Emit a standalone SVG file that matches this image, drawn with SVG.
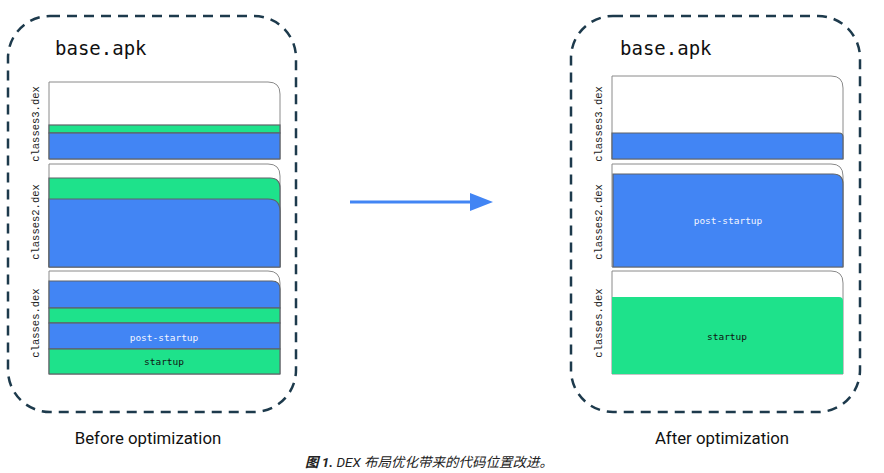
<svg xmlns="http://www.w3.org/2000/svg" width="884" height="473" viewBox="0 0 884 473">
<style>
.box{fill:none;stroke:#1d3a4c;stroke-width:2.5;stroke-dasharray:10 7}
.apk{font-family:"DejaVu Sans Mono","Liberation Mono",monospace;font-size:19px;fill:#111}
.lbl{font-family:"Liberation Mono","DejaVu Sans Mono",monospace;font-size:10.5px;fill:#222;text-anchor:middle}
.out{fill:#fff;stroke:#8a8a8a;stroke-width:1}
.b{fill:#4285f4;stroke:#5f6368;stroke-width:1.2}
.g{fill:#1ee28b;stroke:#5f6368;stroke-width:1.2}
.tw{font-family:"DejaVu Sans Mono","Liberation Mono",monospace;font-size:9.5px;fill:#f4f6ff;text-anchor:middle}
.tk{font-family:"DejaVu Sans Mono","Liberation Mono",monospace;font-size:9.5px;fill:#111;text-anchor:middle}
.cap{font-family:Roboto,"Liberation Sans",sans-serif;font-size:16.8px;fill:#111;text-anchor:middle}
.fig{font-family:Roboto,"Liberation Sans","Noto Sans CJK SC",sans-serif;font-size:13.5px;font-style:italic;fill:#222}
</style>
<g id="before">
<rect class="box" x="8" y="16" width="288" height="396" rx="42"/>
<text class="apk" x="55" y="55">base.apk</text>
<g id="before-classes3">
<path class="out" d="M49,159 V82 H268 Q280,82 280,94 V159 Z"/>
<rect class="g" x="49" y="125" width="231" height="8"/>
<rect class="b" x="49" y="133" width="231" height="26"/>
<text class="lbl" transform="translate(39,124) rotate(-90)">classes3.dex</text>
</g>
<g id="before-classes2">
<path class="out" d="M49,267 V164 H268 Q280,164 280,176 V267 Z"/>
<path class="g" d="M49,267 V178 H270 Q280,178 280,188 V267 Z"/>
<path class="b" d="M49,267 V199 H268 Q280,199 280,211 V267 Z"/>
<text class="lbl" transform="translate(39,222) rotate(-90)">classes2.dex</text>
</g>
<g id="before-classes">
<path class="out" d="M49,374 V271 H268 Q280,271 280,283 V374 Z"/>
<path class="b" d="M49,308 V281 H272 Q280,281 280,289 V308 Z"/>
<rect class="g" x="49" y="308" width="231" height="15"/>
<rect class="b" x="49" y="323" width="231" height="26"/>
<rect class="g" x="49" y="349" width="231" height="25"/>
<text class="tw" x="164" y="341">post-startup</text>
<text class="tk" x="164" y="365">startup</text>
<text class="lbl" transform="translate(39,323) rotate(-90)">classes.dex</text>
</g>
<text class="cap" x="148" y="444">Before optimization</text>
</g>
<g id="after">
<rect class="box" x="571" y="16" width="289" height="396" rx="42"/>
<text class="apk" x="620" y="55">base.apk</text>
<g id="after-classes3">
<path class="out" d="M612,159 V76 H831 Q843,76 843,88 V159 Z"/>
<path class="b" d="M612,159 V133 H839 Q843,133 843,137 V159 Z"/>
<text class="lbl" transform="translate(602,124) rotate(-90)">classes3.dex</text>
</g>
<g id="after-classes2">
<path class="out" d="M612,267 V164 H831 Q843,164 843,176 V267 Z"/>
<path class="b" d="M613,267 V174 H833 Q843,174 843,184 V267 Z"/>
<text class="tw" x="728" y="224">post-startup</text>
<text class="lbl" transform="translate(602,222) rotate(-90)">classes2.dex</text>
</g>
<g id="after-classes">
<path class="out" d="M612,374 V271 H831 Q843,271 843,283 V374 Z"/>
<path d="M612,374 V297 H839 Q843,297 843,301 V374 Z" fill="#1ee28b"/>
<text class="tk" x="727" y="340">startup</text>
<text class="lbl" transform="translate(602,323) rotate(-90)">classes.dex</text>
</g>
<text class="cap" x="722" y="444">After optimization</text>
</g>
<g id="connectors">
<line x1="350" y1="202" x2="472" y2="202" stroke="#4285f4" stroke-width="3"/>
<polygon points="470,193 493,202 470,211" fill="#4285f4"/>
</g>
<text class="fig" x="305" y="467"><tspan font-weight="bold">图 1.</tspan> DEX 布局优化带来的代码位置改进。</text>
</svg>
